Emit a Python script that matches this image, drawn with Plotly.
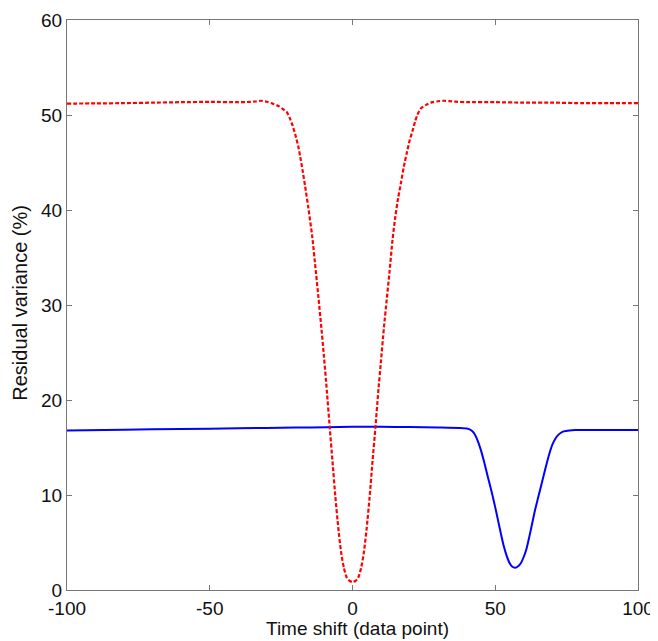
import plotly.graph_objects as go

# Red dashed curve (time shift vs residual variance %)
red_x = [-100, -90, -80, -70, -60, -50, -40, -36, -34, -32, -30, -28, -26, -24, -23, -22, -21, -20, -19, -18.3,
         -17.5, -16.6, -15.5, -14.1, -13, -12, -11, -10, -9, -8, -7, -6, -5, -4, -3, -2, -1, 0,
         1, 2, 3, 4, 5, 6, 7, 8, 9, 10, 11, 12, 13, 14, 15, 16, 17, 18, 19, 20, 21, 22, 23, 24, 26, 28,
         30, 32, 34, 36, 40, 50, 60, 70, 80, 90, 100]
red_y = [51.2, 51.22, 51.25, 51.3, 51.35, 51.38, 51.35, 51.38, 51.42, 51.5, 51.4, 51.2, 50.95, 50.55, 50.3, 49.7,
         48.9, 47.9, 46.7, 45.6, 44.2, 42.5, 40.3, 37.2, 34.0, 31.0, 27.9, 24.6, 21.0, 17.2, 13.5, 9.8, 6.6, 4.0,
         2.3, 1.3, 0.95, 0.85,
         0.95, 1.3, 2.3, 4.0, 6.6, 9.8, 13.5, 17.0, 20.8, 24.2, 27.6, 30.6, 33.6, 36.8, 39.3, 41.3, 42.9, 44.6,
         46.0, 47.3, 48.3, 49.4, 50.2, 50.7, 51.1, 51.35, 51.45, 51.5, 51.45, 51.4, 51.35, 51.35, 51.3, 51.3,
         51.25, 51.25, 51.25]

# Blue solid curve
blue_x = [-100, -80, -60, -40, -20, -9, 0, 10, 20, 30, 37.7, 40, 41, 42, 43, 44, 45, 46, 47, 48, 49, 50, 51, 52,
          53, 54, 55, 56, 57, 58, 59, 60, 61, 62, 63, 64, 65, 66, 67, 68, 69, 70, 71, 72, 73, 74, 76, 78, 85, 100]
blue_y = [16.8, 16.88, 16.95, 17.02, 17.1, 17.13, 17.18, 17.18, 17.15, 17.1, 17.05, 17.0, 16.9, 16.7, 16.3, 15.6,
          14.7, 13.6, 12.4, 11.2, 10.0, 8.7, 7.3, 5.9, 4.6, 3.6, 2.85, 2.45, 2.35, 2.5, 2.85, 3.5, 4.4, 5.7, 7.1,
          8.5, 9.7, 10.9, 12.1, 13.3, 14.4, 15.3, 15.9, 16.3, 16.55, 16.7, 16.8, 16.84, 16.85, 16.85]

x_ticks = [-100, -50, 0, 50, 100]
y_ticks = [0, 10, 20, 30, 40, 50, 60]

FONT = "Liberation Sans, Arial, sans-serif"
TXT = "#111111"
AX = "#777777"

fig = go.Figure()
fig.add_trace(go.Scatter(x=blue_x, y=blue_y, mode="lines",
                         line=dict(color="#0000ff", width=2, shape="spline", smoothing=0.6),
                         showlegend=False))
fig.add_trace(go.Scatter(x=red_x, y=red_y, mode="lines",
                         line=dict(color="#ff0000", width=2.2, dash="4px,2px", shape="spline", smoothing=0.6),
                         showlegend=False))

axis_common = dict(showgrid=False, zeroline=False, showline=True, linecolor=AX, linewidth=1.3,
                   mirror="ticks", ticks="inside", ticklen=5, tickcolor=AX,
                   tickfont=dict(family=FONT, size=19, color=TXT))

fig.update_layout(
    width=658, height=641,
    margin=dict(l=59, r=28, t=12, b=59),
    paper_bgcolor="white", plot_bgcolor="white",
    xaxis=dict(range=[-100, 100], tickvals=x_ticks, ticktext=[str(v) for v in x_ticks],
               ticklabelstandoff=1, automargin=False, **axis_common),
    yaxis=dict(range=[0, 60], tickvals=y_ticks, ticktext=[str(v) for v in y_ticks],
               automargin=False, **axis_common),
    annotations=[
        dict(text="Time shift (data point)", xref="paper", yref="paper", x=0.508, y=-0.046,
             xanchor="center", yanchor="top", showarrow=False,
             font=dict(family=FONT, size=19, color=TXT)),
        dict(text="Residual variance (%)", xref="paper", yref="paper", x=0, y=0.504, xshift=-47,
             xanchor="center", yanchor="middle", textangle=-90, showarrow=False,
             font=dict(family=FONT, size=20, color=TXT)),
    ],
)

fig.write_html("out.html")
